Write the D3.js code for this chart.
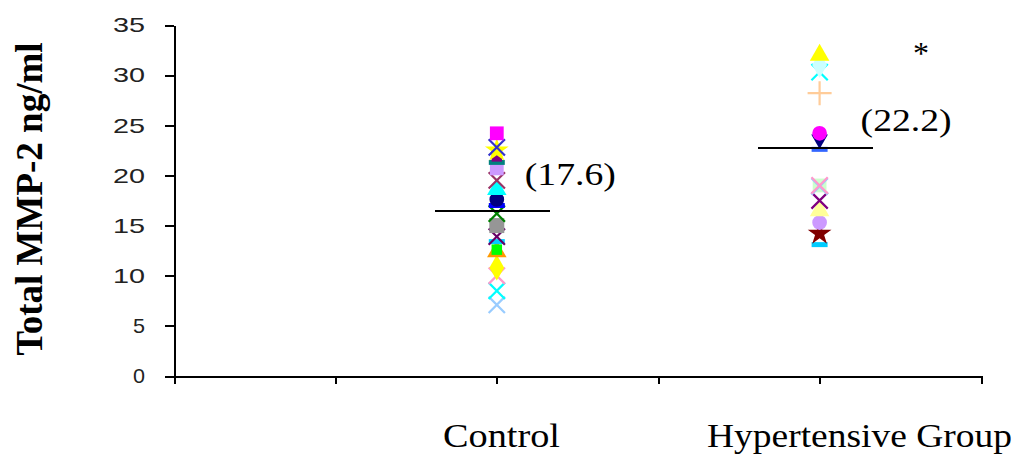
<!DOCTYPE html>
<html>
<head>
<meta charset="utf-8">
<script src="https://cdn.jsdelivr.net/npm/d3@7"></script>
<style>
  body { margin: 0; background: #fff; }
  .axis path, .axis line { stroke: #000; stroke-width: 2px; shape-rendering: crispEdges; }
  .axis text { font-family: "Liberation Sans", Arial, sans-serif; font-size: 21px; fill: #222; }
  .serif { font-family: "Liberation Serif", "Times New Roman", serif; fill: #000; }
</style>
</head>
<body>
<div id="chart"></div>
<script>
// Data
const categories = ["Control", "Hypertensive Group"];
const categoryPos = [2, 4];           // position on the 0..5 x scale
const controlValues = [24.2, 22.8, 22.5, 21.9, 21.3, 20.7, 19.5, 18.6, 17.6, 17.0,
                       16.2, 15.0, 13.9, 13.4, 12.6, 12.4, 10.8, 10.0, 8.5, 7.1];
const hypertensiveValues = [32.0, 31.0, 30.3, 28.2, 24.2, 23.6, 22.6, 19.0, 18.9, 19.0,
                            17.5, 16.5, 15.3, 14.2, 13.1];
const meanLineValues = [16.45, 22.7];
const meanLabels = ["(17.6)", "(22.2)"];
const yTicks = [0, 5, 10, 15, 20, 25, 30, 35];
const xTicks = [0, 1, 2, 3, 4, 5];

// Marker styles (one per patient series, Excel-like)
const controlMarkers = [
  ["square", "#FF00FF"], ["x", "#3333CC"], ["star", "#FFFF00"], ["squareSmall", "#800080"],
  ["dash", "#008080"], ["square", "#CC99FF"], ["x", "#993366"], ["triangle", "#00FFFF"],
  ["circle", "#000080"], ["dash", "#0000FF"], ["x", "#008000"], ["squareBig", "#969696"],
  ["x", "#660066"], ["dash", "#00CCFF"], ["squareSmall", "#00FF00"], ["triangle", "#FF9900"],
  ["diamond", "#FFFF00"], ["x", "#FF99CC"], ["x", "#00FFFF"], ["x", "#99CCFF"]
];
const hyperMarkers = [
  ["triangle", "#FFFF00"], ["diamond", "#CCFFFF"], ["x", "#00FFFF"], ["plus", "#FFCC99"],
  ["circle", "#FF00FF"], ["triangleDown", "#000080"], ["dash", "#3366FF"], ["x", "#FF99CC"],
  ["x", "#99CCFF"], ["square", "#CCFFCC"], ["x", "#800080"], ["triangle", "#FFFF99"],
  ["circle", "#CC99FF"], ["star", "#800000"], ["dash", "#00CCFF"]
];

const W = 1016, H = 456;
const svg = d3.select("#chart").append("svg")
    .attr("width", W).attr("height", H);

const x = d3.scaleLinear().domain([0, 5]).range([174, 981]);
const y = d3.scaleLinear().domain([0, 35]).range([376, 25]);

// Axes
const yAxis = svg.append("g")
    .attr("class", "axis")
    .attr("transform", `translate(${x(0)},0)`)
    .call(d3.axisLeft(y).tickValues(yTicks).tickSize(9).tickSizeOuter(0).tickPadding(20));
yAxis.selectAll("text")
    .attr("textLength", d => String(d).length === 1 ? 12 : 32)
    .attr("lengthAdjust", "spacingAndGlyphs");

svg.append("g")
    .attr("class", "axis")
    .attr("transform", `translate(0,${y(0)})`)
    .call(d3.axisBottom(x).tickValues(xTicks).tickSize(8).tickSizeOuter(0).tickFormat(""));

// Markers
function symbolPath(shape) {
  switch (shape) {
    case "square": return d3.symbol(d3.symbolSquare, 190)();
    case "squareSmall": return d3.symbol(d3.symbolSquare, 110)();
    case "squareBig": return d3.symbol(d3.symbolSquare, 225)();
    case "circle": return d3.symbol(d3.symbolCircle, 170)();
    case "triangle": return d3.symbol(d3.symbolTriangle, 165)();
    case "triangleDown": return d3.symbol(d3.symbolTriangle, 120)();
    case "diamond": return d3.symbol(d3.symbolDiamond, 190)();
    case "star": return d3.symbol(d3.symbolStar, 175)();
    case "x": return d3.symbol(d3.symbolX, 175)();
    case "plus": return d3.symbol(d3.symbolPlus, 190)();
    case "dash": return "M-8,-2.5H8V2.5H-8Z";
  }
}
const strokeShapes = new Set(["x", "plus"]);

function drawGroup(values, markers, pos) {
  svg.append("g").selectAll("path")
    .data(values.map((v, i) => ({ v, shape: markers[i][0], color: markers[i][1] })).reverse())
    .join("path")
    .attr("transform", d => `translate(${x(pos)},${y(d.v)})` + (d.shape === "triangleDown" ? " rotate(180)" : ""))
    .attr("d", d => symbolPath(d.shape))
    .attr("fill", d => strokeShapes.has(d.shape) ? "none" : d.color)
    .attr("stroke", d => strokeShapes.has(d.shape) ? d.color : "none")
    .attr("stroke-width", 2.2);
}
drawGroup(controlValues, controlMarkers, categoryPos[0]);
drawGroup(hypertensiveValues, hyperMarkers, categoryPos[1]);

// Mean lines
svg.append("g").selectAll("line")
  .data(meanLineValues)
  .join("line")
  .attr("x1", (d, i) => x(categoryPos[i] - 0.38))
  .attr("x2", (d, i) => x(categoryPos[i] + 0.33))
  .attr("y1", d => y(d)).attr("y2", d => y(d))
  .attr("stroke", "#000").attr("stroke-width", 2)
  .attr("shape-rendering", "crispEdges");

// Mean labels
const labelOffsets = [[28, 10], [41, 8]];
svg.append("g").selectAll("text")
  .data(meanLabels)
  .join("text")
  .attr("class", "serif")
  .attr("x", (d, i) => x(categoryPos[i]) + labelOffsets[i][0])
  .attr("y", (d, i) => y(meanLineValues[i]) - 26 + (i === 1 ? 9 : 0))
  .attr("font-size", 31)
  .attr("textLength", 91)
  .attr("lengthAdjust", "spacingAndGlyphs")
  .text(d => d);

// significance star
svg.append("text")
  .attr("class", "serif")
  .attr("x", 921).attr("y", 64)
  .attr("text-anchor", "middle")
  .attr("font-size", 32)
  .attr("fill", "#333")
  .text("*");

// Category labels
const catLabelBox = [[443, 117], [707, 305]];
svg.append("g").selectAll("text")
  .data(categories)
  .join("text")
  .attr("class", "serif")
  .attr("x", (d, i) => catLabelBox[i][0])
  .attr("y", 447)
  .attr("font-size", 33)
  .attr("textLength", (d, i) => catLabelBox[i][1])
  .attr("lengthAdjust", "spacingAndGlyphs")
  .text(d => d);

// Y axis title
svg.append("text")
  .attr("class", "serif")
  .attr("transform", "translate(42,199) rotate(-90)")
  .attr("text-anchor", "middle")
  .attr("font-size", 37)
  .attr("font-weight", "bold")
  .text("Total MMP-2 ng/ml");
</script>
</body>
</html>
